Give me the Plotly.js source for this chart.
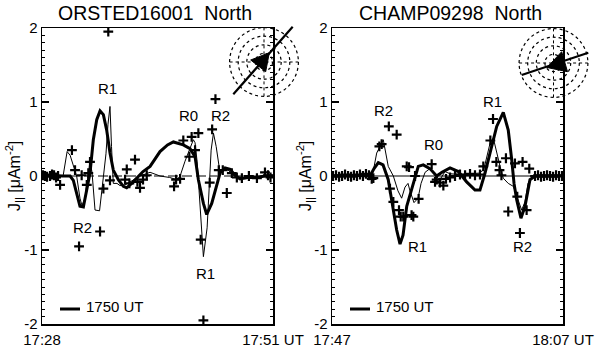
<!DOCTYPE html>
<html>
<head>
<meta charset="utf-8">
<script src="https://cdn.plot.ly/plotly-3.0.1.min.js"></script>
<style>html,body{margin:0;padding:0;background:#fff;}#chart{width:600px;height:356px;}</style>
</head>
<body>
<div id="chart"></div>
<script>
// ---------- DATA (time in minutes after 17:00 UT, J|| in µA m^-2) ----------
// Left panel: ORSTED16001 North
const titleL = "ORSTED16001  North";
const thickL_t = [28, 29, 30, 30.8, 31.12, 31.5, 31.78, 32.12, 32.45, 32.78, 33.11, 33.45, 33.78, 34.11, 34.44, 34.77, 35.1, 35.6, 36.1, 36.43, 36.93, 37.76, 38.06, 38.76, 39.75, 40.5, 41.08, 42.07, 42.74, 43.24, 43.57, 44.07, 44.4, 44.9, 45.4, 45.73, 46.23, 46.73, 47.22, 47.72, 48.39, 49.38, 50.2, 51];
const thickL_j = [0, 0.01, 0, 0, -0.06, -0.25, -0.41, -0.42, -0.2, 0.04, 0.49, 0.76, 0.88, 0.83, 0.62, 0.31, 0.08, -0.05, -0.14, -0.16, -0.1, 0.01, 0.06, 0.13, 0.33, 0.42, 0.46, 0.42, 0.37, 0.26, -0.05, -0.37, -0.52, -0.37, -0.14, 0.04, 0.11, 0.09, 0.01, -0.04, -0.02, -0.02, 0, 0];
const thinL_t = [28, 30.1, 30.5, 30.8, 31.1, 31.45, 31.78, 31.98, 32.28, 32.61, 32.78, 32.98, 33.28, 33.73, 34.37, 34.57, 34.77, 34.92, 35.1, 35.47, 35.77, 36.27, 36.76, 37.36, 37.76, 38.36, 38.76, 39.75, 40.7, 41.45, 41.75, 42.24, 42.74, 43.07, 43.24, 43.44, 43.64, 44.07, 44.44, 44.64, 44.84, 45.07, 45.34, 45.73, 46.13, 46.53, 46.9, 47.3, 47.7, 48.5, 49.3, 50.1, 51];
const thinL_j = [0, 0, 0.33, 0.28, 0.15, 0, -0.3, -0.4, -0.3, 0, 0.2, 0.05, -0.46, -0.47, 0.3, 0.7, 0.94, 0.4, -0.1, -0.1, -0.13, -0.12, -0.08, -0.03, 0, 0.03, 0.05, 0, -0.02, -0.05, 0, 0.2, 0.38, 0.49, 0.45, 0.2, -0.2, -1.09, -0.7, -0.1, 0.35, 0.58, 0.4, 0.04, 0.1, 0.08, 0.03, -0.02, -0.04, -0.01, -0.02, 0.01, 0];
const obsL_t = [28.1, 28.3, 28.5, 28.8, 29.0, 29.2, 29.4, 29.6, 29.8, 30.98, 31.29, 31.69, 31.95, 32.46, 32.61, 32.78, 33.78, 34.11, 34.6, 34.77, 36.27, 36.44, 36.7, 37.26, 37.5, 37.76, 38.06, 38.43, 41.15, 41.35, 41.75, 42.07, 42.67, 42.9, 43.24, 43.57, 43.8, 44.07, 44.7, 44.94, 45.27, 45.6, 46.0, 46.4, 46.9, 47.4, 47.9, 48.6, 49.4, 50.2, 50.5, 50.75];
const obsL_j = [0.01, 0, -0.01, 0, 0.02, 0.01, -0.02, 0, -0.12, 0.35, 0.08, -0.95, 0.01, -0.12, 0.04, 0.19, -0.75, -0.17, 1.95, -0.06, -0.05, 0.09, -0.1, 0.22, -0.08, -0.16, -0.05, 0.01, -0.14, -0.05, -0.04, 0.48, 0.26, 0.53, 0.35, 0.58, -0.86, -1.95, -0.09, 0.63, 1.04, 0.08, 0.08, -0.23, 0.04, -0.02, -0.03, 0, -0.03, 0.05, 0.01, -0.02];
const xTickValsL = [28, 51];
const xTickTextL = ["17:28", "17:51 UT"];
const labelsL = ["R1", "R0", "R2", "R2", "R1"];
const labelsL_t = [34.57, 42.54, 45.73, 32.08, 44.28];
const labelsL_j = [1.18, 0.82, 0.82, -0.70, -1.32];

// Right panel: CHAMP09298 North
const titleR = "CHAMP09298  North";
const thickR_t = [47, 48.56, 50.29, 50.64, 51.01, 51.42, 51.87, 52.17, 52.6, 52.89, 53.15, 53.47, 54.04, 54.47, 54.9, 55.48, 56.06, 56.52, 57.22, 57.94, 58.66, 59.38, 59.81, 60.25, 60.68, 61.26, 61.83, 62.26, 62.56, 62.76, 62.99, 63.36, 63.71, 64.14, 64.58, 67];
const thickR_j = [0, 0.01, 0, 0.1, 0.18, 0.15, -0.05, -0.32, -0.73, -0.92, -0.8, -0.41, -0.1, 0.13, 0.15, 0.1, 0, 0.05, 0.11, 0.06, -0.08, -0.19, -0.19, 0.04, 0.31, 0.67, 0.86, 0.62, 0.22, -0.1, -0.32, -0.57, -0.41, -0.05, 0, 0];
const thinR_t = [47, 50.29, 50.55, 50.87, 51.44, 51.67, 51.87, 52.31, 52.71, 53.03, 53.32, 53.58, 53.75, 54.1, 54.45, 54.71, 55.06, 55.48, 56.0, 56.35, 56.78, 57.22, 58.08, 58.95, 59.81, 60.16, 60.39, 60.68, 60.97, 61.26, 61.55, 61.83, 62.26, 62.7, 63.13, 63.42, 63.71, 63.97, 64.4, 67];
const thinR_j = [0, 0, 0.05, 0.31, 0.49, 0.3, 0.13, 0, -0.2, -0.3, -0.15, -0.1, -0.2, -0.36, -0.3, -0.1, 0.05, 0.1, 0, -0.05, 0.06, 0.03, 0.02, 0.03, 0.04, 0.1, 0.26, 0.44, 0.51, 0.3, 0.13, -0.03, -0.1, -0.14, -0.32, -0.46, -0.35, -0.1, 0, 0];
const obsR_t = [47.09, 47.35, 47.61, 47.87, 48.13, 48.39, 48.65, 48.9, 49.16, 49.42, 49.68, 49.94, 50.2, 50.44, 50.58, 51.1, 51.3, 51.92, 52.6, 52.02, 52.31, 52.8, 52.95, 53.17, 53.47, 53.67, 53.89, 54.04, 54.19, 54.5, 55.63, 55.92, 56.06, 56.35, 56.64, 56.87, 57.22, 57.65, 58.08, 58.52, 58.95, 59.38, 59.81, 60.1, 60.71, 60.94, 61.23, 61.5, 61.67, 62.06, 62.26, 62.84, 63.04, 63.27, 63.5, 63.85, 64.08, 64.58, 64.84, 65.1, 65.36, 65.62, 65.88, 66.14, 66.4, 66.66, 66.92];
const obsR_j = [0, 0.01, -0.01, 0, 0.02, 0, -0.01, 0.01, 0, 0.02, 0, 0.03, 0.01, -0.04, -0.03, 0.4, 0.43, 0.67, 0.56, -0.17, -0.35, -0.46, -0.55, -0.55, 0.13, 0.12, -0.53, -0.55, 0, -0.31, 0.16, -0.08, -0.05, -0.09, -0.13, -0.04, -0.02, 0, 0.02, 0.01, 0.03, 0.01, 0.02, 0.13, 0.48, 0.77, 0.19, 0.08, 0.01, 0.24, -0.48, 0.17, -0.28, -0.77, 0.19, -0.46, 0.1, 0, 0.01, -0.01, 0, 0.01, 0, -0.01, 0.01, 0, 0];
const xTickValsR = [47, 67];
const xTickTextR = ["17:47", "18:07 UT"];
const labelsR = ["R2", "R0", "R1", "R1", "R2"];
const labelsR_t = [51.42, 55.83, 60.9, 54.36, 63.5];
const labelsR_j = [0.88, 0.42, 1.01, -0.95, -0.95];

const yTickVals = [-2, -1, 0, 1, 2];
const yTickText = ["-2", "-1", "0", "1", "2"];
const yTitle = "J<sub>||</sub> [μAm<sup>-2</sup>]";
const legendText = "1750 UT";

// ---------- LAYOUT HELPERS ----------
const W = 600, H = 356, ML = 42, MR = 37, MT = 28, MB = 32;
const PW = W - ML - MR, PH = H - MT - MB;
const px = v => (v - ML) / PW;        // pixel x -> paper x
const py = v => (H - MB - v) / PH;    // pixel y -> paper y
const FONT = "Liberation Sans, Arial, Helvetica, sans-serif";
const BLK = "#000";

function lineTrace(x, y, w, xa, ya) {
  return {x, y, xaxis: xa, yaxis: ya, mode: "lines", type: "scatter",
          line: {color: BLK, width: w}, hoverinfo: "skip", showlegend: false};
}
function obsTrace(x, y, xa, ya) {
  return {x, y, xaxis: xa, yaxis: ya, mode: "markers", type: "scatter",
          marker: {symbol: "cross-thin", size: 7, line: {width: 2.2, color: BLK}},
          hoverinfo: "skip", showlegend: false};
}

const data = [
  lineTrace(thinL_t, thinL_j, 1, "x", "y"),
  lineTrace(thickL_t, thickL_j, 3, "x", "y"),
  obsTrace(obsL_t, obsL_j, "x", "y"),
  lineTrace(thinR_t, thinR_j, 1, "x2", "y2"),
  lineTrace(thickR_t, thickR_j, 3, "x2", "y2"),
  obsTrace(obsR_t, obsR_j, "x2", "y2")
];

function xAxis(dom, vals, text, range, anchor) {
  return {domain: dom, range, anchor, tickmode: "array", tickvals: vals, ticktext: text,
          ticks: "", showgrid: false, zeroline: false, showline: true, mirror: true,
          linecolor: BLK, linewidth: 1.5, tickfont: {family: FONT, size: 15, color: BLK},
          tickangle: 0, automargin: false, ticklabelstandoff: 1};
}
function yAxis(anchor) {
  return {anchor, range: [-2, 2], tickmode: "array", tickvals: yTickVals, ticktext: yTickText,
          ticks: "inside", ticklen: 7, tickwidth: 1.2, tickcolor: BLK,
          minor: {tickmode: "linear", tick0: 0, dtick: 0.1, ticks: "inside", ticklen: 3, tickwidth: 1, tickcolor: BLK},
          showgrid: false, zeroline: false, showline: true, mirror: "ticks",
          linecolor: BLK, linewidth: 1.5, tickfont: {family: FONT, size: 15, color: BLK},
          automargin: false};
}

const domL = [0, px(273)], domR = [px(332), 1];

const shapes = [
  // zero lines
  {type: "line", xref: "x", yref: "y", x0: 28, x1: 51, y0: 0, y1: 0, line: {color: BLK, width: 1, dash: "10px,4px"}, layer: "below"},
  {type: "line", xref: "x2", yref: "y2", x0: 47, x1: 67, y0: 0, y1: 0, line: {color: BLK, width: 1}, layer: "below"},
  // legend segments
  {type: "line", xref: "paper", yref: "paper", x0: px(60), x1: px(80), y0: py(309), y1: py(309), line: {color: BLK, width: 3}},
  {type: "line", xref: "paper", yref: "paper", x0: px(350), x1: px(370), y0: py(309), y1: py(309), line: {color: BLK, width: 3}}
];
// orbit insets
function inset(cx, cy, a, b, tri) {
  [8.6, 17.2, 25.8, 34.4].forEach(r => shapes.push({type: "circle", xref: "paper", yref: "paper",
    x0: px(cx - r), x1: px(cx + r), y0: py(cy + r), y1: py(cy - r), line: {color: BLK, width: 1.2, dash: "dot"}}));
  shapes.push({type: "line", xref: "paper", yref: "paper", x0: px(cx), x1: px(cx), y0: py(cy + 34.4), y1: py(cy - 34.4), line: {color: BLK, width: 1, dash: "dot"}});
  shapes.push({type: "line", xref: "paper", yref: "paper", x0: px(cx - 34.4), x1: px(cx + 34.4), y0: py(cy), y1: py(cy), line: {color: BLK, width: 1, dash: "dot"}});
  shapes.push({type: "line", xref: "paper", yref: "paper", x0: px(a[0]), y0: py(a[1]), x1: px(b[0]), y1: py(b[1]), line: {color: BLK, width: 2.2}});
  shapes.push({type: "path", xref: "paper", yref: "paper", fillcolor: BLK, line: {color: BLK, width: 1},
    path: "M " + tri.map(p => px(p[0]) + "," + py(p[1])).join(" L ") + " Z"});
}
inset(264, 62, [233.3, 94.3], [292.7, 26.7], [[250.7, 60], [269.3, 52.7], [265.7, 71.7]]);
inset(553.5, 63, [521.7, 75], [588.3, 52.7], [[547, 67.5], [561.7, 51.7], [567.5, 71.7]]);

const annotations = [];
function ann(text, x, y, xref, yref, opts) {
  annotations.push(Object.assign({text, x, y, xref, yref, showarrow: false,
    xanchor: "center", yanchor: "middle",
    font: {family: FONT, size: 15, color: BLK}}, opts || {}));
}
labelsL.forEach((t, i) => ann(t, labelsL_t[i], labelsL_j[i], "x", "y"));
labelsR.forEach((t, i) => ann(t, labelsR_t[i], labelsR_j[i], "x2", "y2"));
ann(titleL, px(155), py(13), "paper", "paper", {font: {family: FONT, size: 19.5, color: BLK}});
ann(titleR, px(450), py(13), "paper", "paper", {font: {family: FONT, size: 19.5, color: BLK}});
ann(yTitle, px(14), 0.5, "paper", "paper", {textangle: -90, font: {family: FONT, size: 16, color: BLK}});
ann(yTitle, px(305), 0.5, "paper", "paper", {textangle: -90, font: {family: FONT, size: 16, color: BLK}});
ann(legendText, px(84), py(306), "paper", "paper", {xanchor: "left"});
ann(legendText, px(374), py(306), "paper", "paper", {xanchor: "left"});

const layout = {
  width: W, height: H, margin: {l: ML, r: MR, t: MT, b: MB, pad: 0},
  paper_bgcolor: "#fff", plot_bgcolor: "#fff", showlegend: false,
  font: {family: FONT, color: BLK},
  xaxis: xAxis(domL, xTickValsL, xTickTextL, [28, 51], "y"),
  yaxis: yAxis("x"),
  xaxis2: xAxis(domR, xTickValsR, xTickTextR, [47, 67], "y2"),
  yaxis2: yAxis("x2"),
  shapes, annotations
};
Plotly.newPlot("chart", data, layout, {staticPlot: true, displayModeBar: false});
</script>
</body>
</html>
